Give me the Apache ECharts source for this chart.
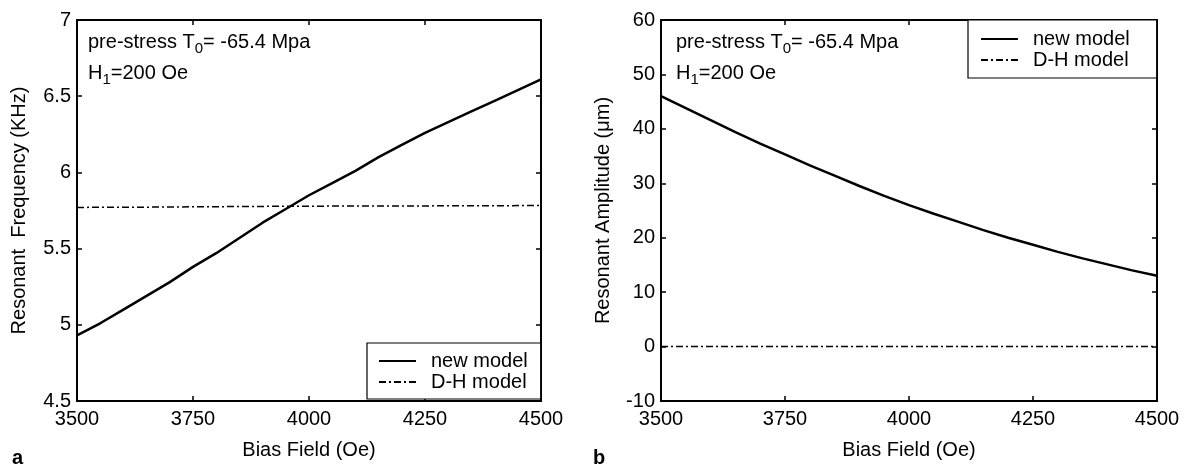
<!DOCTYPE html>
<html>
<head>
<meta charset="utf-8">
<title>Resonant frequency and amplitude vs bias field</title>
<script src="https://cdn.jsdelivr.net/npm/echarts@6/dist/echarts.min.js"></script>
<style>
  html, body { margin: 0; padding: 0; background: #fff; }
  #chart { width: 1192px; height: 466px; }
</style>
</head>
<body>
<div id="chart"></div>
<script>
// Bias field samples (Oe)
const biasField = [3500, 3550, 3600, 3650, 3700, 3750, 3800, 3850, 3900, 3950, 4000,
                   4050, 4100, 4150, 4200, 4250, 4300, 4350, 4400, 4450, 4500];

// Panel a: resonant frequency (KHz)
const freqNewModel = [4.93, 5.01, 5.10, 5.19, 5.28, 5.38, 5.47, 5.57, 5.67, 5.76, 5.85,
                      5.93, 6.01, 6.10, 6.18, 6.26, 6.33, 6.40, 6.47, 6.54, 6.61];
const freqDHModel  = [5.770, 5.771, 5.772, 5.772, 5.773, 5.774, 5.775, 5.776, 5.777, 5.778, 5.778,
                      5.779, 5.779, 5.780, 5.780, 5.780, 5.781, 5.781, 5.781, 5.782, 5.782];

// Panel b: resonant amplitude (µm)
const ampNewModel = [46.0, 43.8, 41.6, 39.4, 37.3, 35.3, 33.3, 31.4, 29.5, 27.7, 26.0,
                     24.4, 22.9, 21.4, 20.0, 18.7, 17.4, 16.2, 15.1, 14.0, 13.0];
const ampDHModel  = [0, 0, 0, 0, 0, 0, 0, 0, 0, 0, 0,
                     0, 0, 0, 0, 0, 0, 0, 0, 0, 0];

// Axis ticks
const fieldTicks = [3500, 3750, 4000, 4250, 4500];
const freqTicks  = [4.5, 5, 5.5, 6, 6.5, 7];
const ampTicks   = [-10, 0, 10, 20, 30, 40, 50, 60];

const FONT = 'Liberation Sans, Arial, Helvetica, sans-serif';
const INK = '#000';
const DASH_DOT = [7, 3, 2, 3];

const pairs = ys => biasField.map((x, i) => [x, ys[i]]);
const axisRange = t => ({ min: t[0], max: t[t.length - 1], interval: t[1] - t[0] });
const plainNumber = v => String(v);

function xAxisFor(gridIndex, position, withLabels) {
  return Object.assign({
    type: 'value', gridIndex, position,
    name: withLabels ? 'Bias Field (Oe)' : '',
    nameLocation: 'middle', nameGap: 39,
    nameTextStyle: { fontFamily: FONT, fontSize: 20, color: INK },
    axisLine: { show: true, onZero: false, lineStyle: { color: INK, width: 2 } },
    axisTick: { show: true, inside: true, length: 5, lineStyle: { color: INK, width: 1.5 } },
    axisLabel: { show: withLabels, margin: 8, fontFamily: FONT, fontSize: 20, color: INK,
                 formatter: plainNumber },
    splitLine: { show: false }
  }, axisRange(fieldTicks));
}

function yAxisFor(gridIndex, position, ticks, name) {
  return Object.assign({
    type: 'value', gridIndex, position,
    name: name || '',
    nameLocation: 'middle', nameGap: 48,
    nameTextStyle: { fontFamily: FONT, fontSize: 20, color: INK },
    axisLine: { show: true, onZero: false, lineStyle: { color: INK, width: 2 } },
    axisTick: { show: true, inside: true, length: 5, lineStyle: { color: INK, width: 1.5 } },
    axisLabel: { show: !!name, margin: 6, fontFamily: FONT, fontSize: 20, color: INK,
                 formatter: plainNumber },
    splitLine: { show: false }
  }, axisRange(ticks));
}

function lineSeries(name, xi, yi, ys, dashed) {
  return {
    name, type: 'line', xAxisIndex: xi, yAxisIndex: yi,
    data: pairs(ys), showSymbol: false, symbol: 'none', silent: true,
    lineStyle: dashed
      ? { color: INK, width: 1.5, type: DASH_DOT }
      : { color: INK, width: 2.5 },
    itemStyle: { color: INK }
  };
}

function legendAt(pos) {
  return Object.assign({
    orient: 'vertical',
    data: ['new model', 'D-H model'],
    backgroundColor: '#fff',
    borderColor: INK, borderWidth: 1.2, borderRadius: 0,
    itemWidth: 37, itemHeight: 14, itemGap: 1,
    selectedMode: false,
    itemStyle: { opacity: 0 },
    textStyle: { fontFamily: FONT, fontSize: 20, color: INK, padding: [0, 0, 0, 10] }
  }, pos);
}

function note(left, top) {
  const sub = { fontSize: 15, padding: [14, 0, 0, 0], fontFamily: FONT };
  return [
    {
      type: 'text', left, top,
      style: { text: 'pre-stress T{sub|0}= -65.4 Mpa', rich: { sub }, font: '20px ' + FONT, fill: INK }
    },
    {
      type: 'text', left, top: top + 31,
      style: { text: 'H{sub|1}=200 Oe', rich: { sub }, font: '20px ' + FONT, fill: INK }
    }
  ];
}

const chart = echarts.init(document.getElementById('chart'), null, { renderer: 'canvas' });

chart.setOption({
  backgroundColor: '#fff',
  animation: false,
  grid: [
    { left: 77, top: 20, width: 464, height: 381 },
    { left: 661, top: 20, width: 496, height: 381 }
  ],
  xAxis: [
    xAxisFor(0, 'bottom', true),
    xAxisFor(0, 'top', false),
    xAxisFor(1, 'bottom', true),
    xAxisFor(1, 'top', false)
  ],
  yAxis: [
    yAxisFor(0, 'left', freqTicks, 'Resonant  Frequency (KHz)'),
    yAxisFor(0, 'right', freqTicks),
    yAxisFor(1, 'left', ampTicks, 'Resonant Amplitude (\u03bcm)'),
    yAxisFor(1, 'right', ampTicks)
  ],
  legend: [
    legendAt({ left: 367, top: 343, padding: [8, 13, 7, 11] }),
    legendAt({ left: 968, top: 20, padding: [9, 27, 8, 12] })
  ],
  series: [
    lineSeries('new model', 0, 0, freqNewModel, false),
    lineSeries('D-H model', 0, 0, freqDHModel, true),
    lineSeries('new model', 2, 2, ampNewModel, false),
    lineSeries('D-H model', 2, 2, ampDHModel, true)
  ],
  graphic: [
    ...note(88, 32),
    ...note(676, 32),
    { type: 'text', left: 12, top: 448, style: { text: 'a', font: 'bold 20px ' + FONT, fill: INK } },
    { type: 'text', left: 593, top: 448, style: { text: 'b', font: 'bold 20px ' + FONT, fill: INK } }
  ]
});
</script>
</body>
</html>
